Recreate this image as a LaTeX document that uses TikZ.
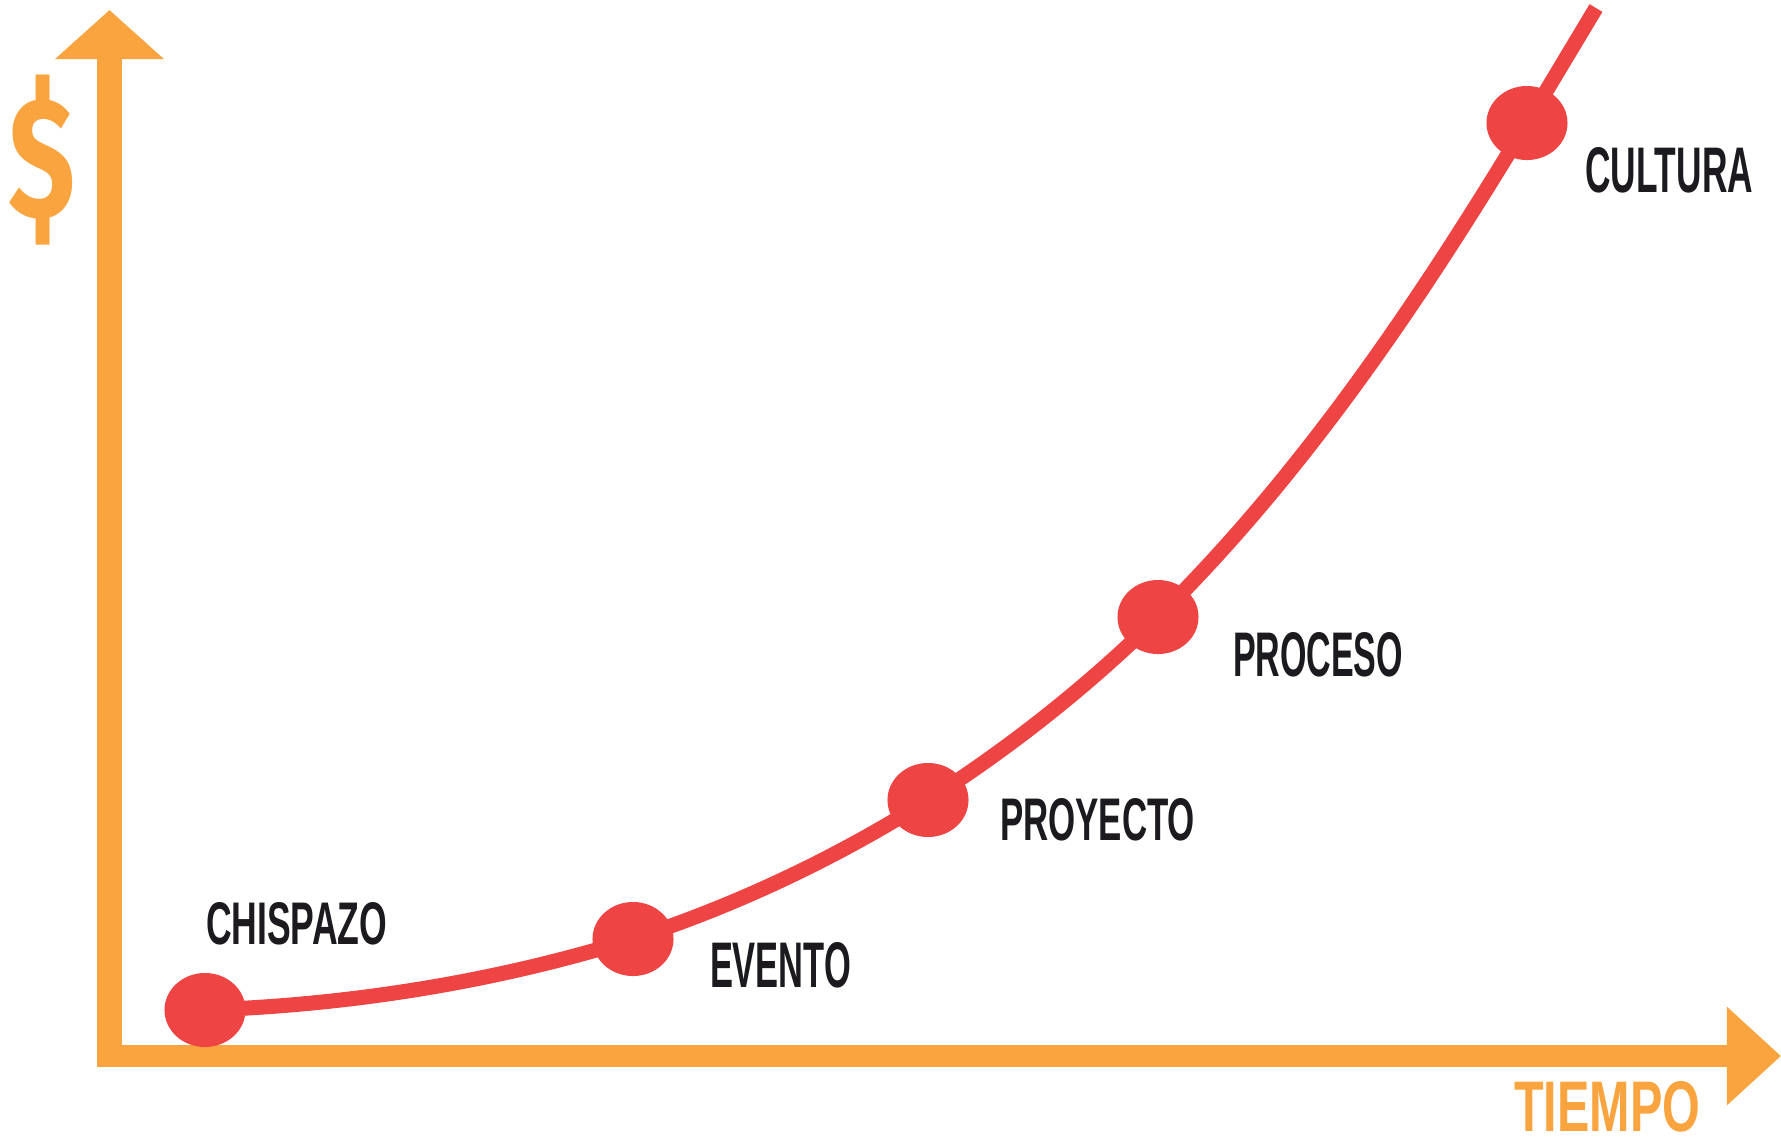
\documentclass[tikz,border=0pt]{standalone}
\usepackage{fontspec}
\setmainfont{Liberation Sans}
\newfontfamily\dollarfont{Fira Sans}
\usepackage{graphicx}
\usetikzlibrary{arrows.meta,shapes.geometric,backgrounds}
\definecolor{axisorange}{HTML}{F9A43E}
\definecolor{curvered}{HTML}{EE4444}
\definecolor{ink}{HTML}{1C1A1F}
\tikzset{
  axisline/.style={draw=axisorange, line cap=butt},
  curveline/.style={draw=curvered, line width=0.15cm, line cap=butt, line join=round},
  dot/.style={ellipse, fill=curvered, draw=none, minimum width=0.81cm, minimum height=0.74cm, inner sep=0pt},
  lbl/.style={inner sep=0pt, outer sep=0pt, text=ink, font=\bfseries},
  axlbl/.style={inner sep=0pt, outer sep=0pt, text=axisorange, font=\bfseries}
}
\begin{document}
\begin{tikzpicture}[x=0.01cm,y=-0.01cm]
\useasboundingbox (0,0) rectangle (1781,1138);
% dots
\node[dot] (chispazo) at (205,1010) {};
\node[dot] (evento) at (633,939) {};
\node[dot] (proyecto) at (928,800) {};
\node[dot] (proceso) at (1158,617) {};
\node[dot] (cultura) at (1527,123) {};
\coordinate (top) at (1596,8);
\begin{scope}[on background layer]
  % axes
  \coordinate (origin) at (97,1056);
  \coordinate (ybase) at (109.5,1067);
  \coordinate (ytip) at (109.5,10);
  \coordinate (xtip) at (1781,1056);
  \draw[axisline, line width=0.25cm, -{Triangle[width=1.06cm,length=0.49cm]}] (ybase) -- (ytip);
  \draw[axisline, line width=0.22cm, -{Triangle[width=0.95cm,length=0.54cm]}] (origin) -- (xtip);
  % curve
  \draw[curveline] (chispazo.center)
    .. controls (350,1005) and (495,982) .. (evento.center)
    .. controls (737,905) and (836,858) .. (proyecto.center)
    .. controls (1011,747) and (1088,686) .. (proceso.center)
    .. controls (1304,473) and (1421,299) .. (cultura.center)
    -- (top);
\end{scope}
% labels
\node[lbl, anchor=south west] (lchispazo) at (206,945) {\resizebox{1.81cm}{0.42cm}{CHISPAZO}};
\node[lbl, anchor=south west] (levento) at (710,988) {\resizebox{1.41cm}{0.45cm}{EVENTO}};
\node[lbl, anchor=south west] (lproyecto) at (1000,841) {\resizebox{1.95cm}{0.42cm}{PROYECTO}};
\node[lbl, anchor=south west] (lproceso) at (1233,677) {\resizebox{1.70cm}{0.44cm}{PROCESO}};
\node[lbl, anchor=south west] (lcultura) at (1585,193) {\resizebox{1.68cm}{0.45cm}{CULTURA}};
\node[axlbl, anchor=north west] (ltiempo) at (1514,1081) {\resizebox{1.86cm}{0.50cm}{TIEMPO}};
\node[axlbl] (ldollar) at (42,160) {\resizebox*{0.67cm}{1.70cm}{\dollarfont\bfseries\$}};
\end{tikzpicture}
\end{document}
